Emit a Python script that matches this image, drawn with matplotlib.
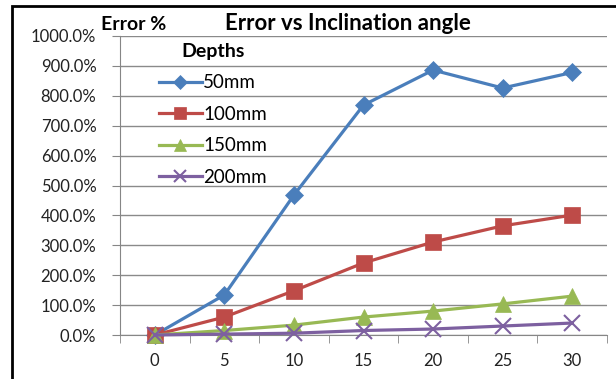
import matplotlib
matplotlib.use("Agg")
import matplotlib.pyplot as plt
import matplotlib.patches as mpatches
from matplotlib.ticker import FixedLocator

plt.rcParams['font.family'] = ['Lato', 'DejaVu Sans']

angles = [0, 5, 10, 15, 20, 25, 30]
depth_labels = ["50mm", "100mm", "150mm", "200mm"]
err_50 = [0, 134, 468, 769, 886, 826, 878]
err_100 = [0, 60, 148, 241, 311, 365, 401]
err_150 = [0, 15, 33, 60, 80, 104, 130]
err_200 = [0, 3, 6, 15, 20, 30, 40]
yticks = [0, 100, 200, 300, 400, 500, 600, 700, 800, 900, 1000]

colors = ["#4A7EBB", "#BE4B48", "#98B954", "#7D60A0"]
markers = ["D", "s", "^", "x"]
msizes = [9, 11, 11, 11]

fig = plt.figure(figsize=(6.16, 3.79), dpi=100)
ax = fig.add_axes([120/616, 1 - 335/379, 487/616, 299/379])

x = list(range(len(angles)))
for vals, lab, c, m, ms in zip([err_50, err_100, err_150, err_200], depth_labels, colors, markers, msizes):
    ax.plot(x, vals, color=c, lw=2.3, marker=m, markersize=ms, label=lab,
            markeredgewidth=1.5 if m == "x" else 0.5, clip_on=False, zorder=3)

ax.set_xlim(-0.5, 6.5)
ax.set_ylim(0, 1000)
ax.set_yticks(yticks)
ax.set_yticklabels([f"{v:.1f}%" for v in yticks], fontsize=12, color="#222222")
ax.set_xticks(x)
ax.set_xticklabels([str(a) for a in angles], fontsize=12, color="#222222")
ax.xaxis.set_minor_locator(FixedLocator([i - 0.5 for i in range(len(angles) + 1)]))
ax.tick_params(axis='x', which='major', length=0, pad=13)
ax.tick_params(axis='x', which='minor', length=6, color="#868686", direction='out')
ax.tick_params(axis='y', length=6, color="#868686", pad=11)
ax.grid(axis='y', color="#8a8a8a", lw=1)
ax.set_axisbelow(True)
for s in ["top", "right"]:
    ax.spines[s].set_visible(False)
for s in ["left", "bottom"]:
    ax.spines[s].set_color("#868686")

leg = ax.legend(loc='upper left', bbox_to_anchor=(151/616, 1 - 35/379), bbox_transform=fig.transFigure,
                frameon=False, fontsize=13.5, title="Depths", handlelength=2.3, labelspacing=0.78,
                handletextpad=0.08, borderaxespad=0, markerscale=0.75)
leg.get_title().set_fontweight('bold')
leg.get_title().set_fontsize(14)

fig.text(101/616, 1 - 24/379, "Error %", fontsize=14, fontweight='bold', va='center', ha='left')
fig.text(348/616, 1 - 24/379, "Error vs Inclination angle", fontsize=16, fontweight='bold',
         va='center', ha='center')

fig.patches.append(mpatches.Rectangle((12/616, -0.2), 2.0, 1.2 - 6/379, transform=fig.transFigure,
                                      fill=False, edgecolor='black', lw=2))

fig.savefig("out.png", dpi=100)
